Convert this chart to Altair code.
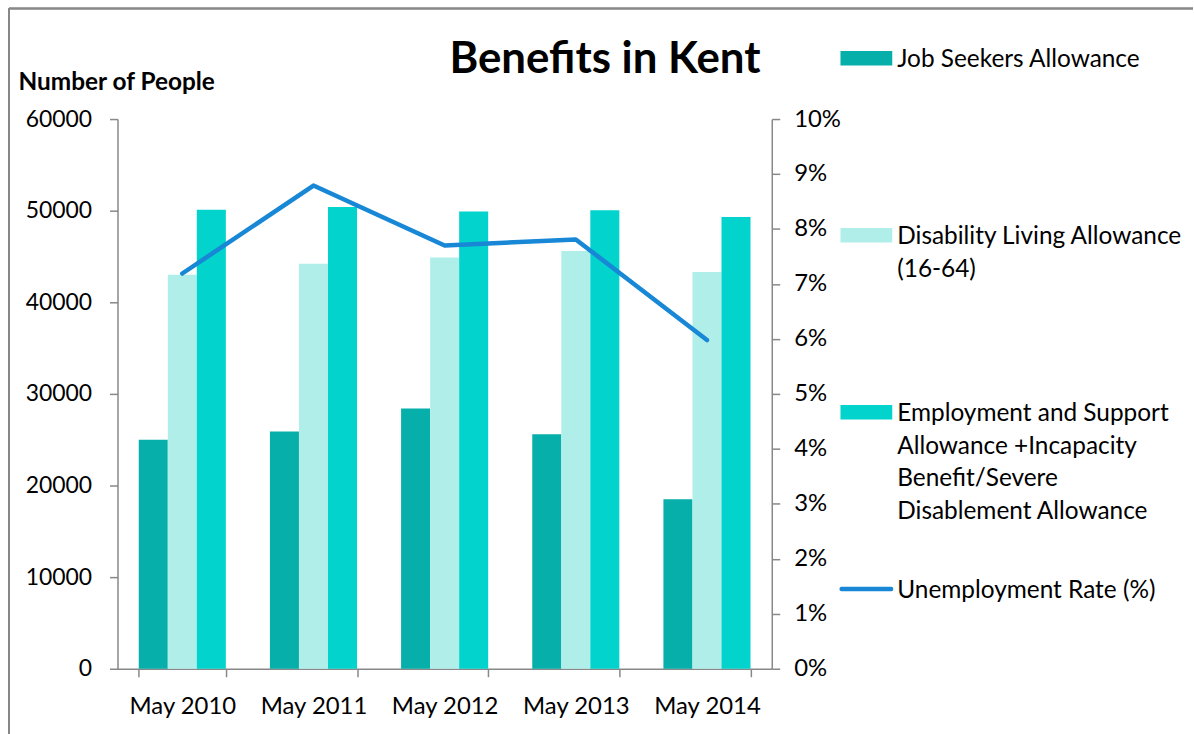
import altair as alt
import pandas as pd

years = ["May 2010", "May 2011", "May 2012", "May 2013", "May 2014"]
series_names = [
    "Job Seekers Allowance",
    "Disability Living Allowance (16-64)",
    "Employment and Support Allowance +Incapacity Benefit/Severe Disablement Allowance",
]
jsa = [25000, 25900, 28400, 25600, 18500]
dla = [43000, 44200, 44900, 45600, 43300]
esa = [50100, 50400, 49900, 50050, 49300]
unemployment = [0.0719, 0.0879, 0.0770, 0.0781, 0.0598]

left_ticks = [0, 10000, 20000, 30000, 40000, 50000, 60000]
right_ticks = [0, 0.01, 0.02, 0.03, 0.04, 0.05, 0.06, 0.07, 0.08, 0.09, 0.10]

legend_labels = [
    "Job Seekers Allowance",
    "Disability Living Allowance\n(16-64)",
    "Employment and Support\nAllowance +Incapacity\nBenefit/Severe\nDisablement Allowance",
    "Unemployment Rate (%)",
]
bar_colors = ["#06AFA9", "#B0EEEA", "#03D3CD"]
line_color = "#1787D6"

FONT = "Lato"
GRAY = "#888888"

rows = []
for i, y in enumerate(years):
    for s, vals in zip(series_names, [jsa, dla, esa]):
        rows.append({"year": y, "series": s, "value": vals[i]})
bars_df = pd.DataFrame(rows)
line_df = pd.DataFrame({"year": years, "rate": unemployment})

x_enc = alt.X(
    "year:N",
    sort=years,
    scale=alt.Scale(paddingInner=0.336, paddingOuter=0.162),
    axis=alt.Axis(
        title=None, labelAngle=0, tickBand="extent", tickSize=8,
        labelPadding=18, domainColor=GRAY, tickColor=GRAY, domainWidth=1.5, tickWidth=1.5,
        labelFont=FONT, labelFontSize=24, labelColor="#000000",
    ),
)

bars = alt.Chart(bars_df).mark_bar().encode(
    x=x_enc,
    xOffset=alt.XOffset("series:N", sort=series_names,
                        scale=alt.Scale(paddingInner=0, paddingOuter=0)),
    y=alt.Y(
        "value:Q",
        scale=alt.Scale(domain=[0, 60000], nice=False),
        axis=alt.Axis(
            values=left_ticks, format="d", grid=False, tickSize=8, labelPadding=18,
            domainColor=GRAY, tickColor=GRAY, domainWidth=1.5, tickWidth=1.5,
            labelFont=FONT, labelFontSize=23, labelColor="#000000",
            title="Number of People", titleAngle=0, titleX=-100, titleY=-30,
            titleAlign="left", titleBaseline="alphabetic", titleFont=FONT,
            titleFontSize=24.5, titleFontWeight="bold", titleColor="#000000",
        ),
    ),
    color=alt.Color("series:N", scale=alt.Scale(domain=series_names, range=bar_colors), legend=None),
)

line = alt.Chart(line_df).mark_line(color=line_color, strokeWidth=4.5, strokeCap="round", strokeJoin="round").encode(
    x=alt.X("year:N", sort=years),
    y=alt.Y(
        "rate:Q",
        scale=alt.Scale(domain=[0, 0.1], nice=False),
        axis=alt.Axis(
            orient="right", values=right_ticks, format=".0%", grid=False, tickSize=8,
            labelPadding=14, domainColor=GRAY, tickColor=GRAY, domainWidth=1.5, tickWidth=1.5,
            labelFont=FONT, labelFontSize=24, labelColor="#000000", title=None,
        ),
    ),
)

frame_left = alt.Chart(line_df).mark_rule(color=GRAY, strokeWidth=1.5).encode(
    x=alt.value(-109), y=alt.value(-111), y2=alt.value(620)
)
frame_top = alt.Chart(line_df).mark_rule(color=GRAY, strokeWidth=1.5).encode(
    x=alt.value(-109), x2=alt.value(1080), y=alt.value(-111)
)

main = alt.layer(bars, line, frame_left, frame_top).resolve_scale(y="independent").properties(
    width=657, height=552
)

leg_df = pd.DataFrame({
    "idx": [0, 1, 2, 3],
    "label": legend_labels,
    "key": series_names + ["Unemployment Rate (%)"],
})
leg_y = alt.Y("idx:Q", scale=alt.Scale(domain=[0.3433, 3.4502], reverse=True, nice=False, zero=False), axis=None)

swatches = alt.Chart(leg_df).transform_filter("datum.idx < 3").mark_tick(
    orient="horizontal", size=52, thickness=14.5, opacity=1
).encode(
    x=alt.value(30),
    y=leg_y,
    color=alt.Color("key:N", scale=alt.Scale(domain=series_names, range=bar_colors), legend=None),
)
line_swatch = alt.Chart(leg_df).transform_filter("datum.idx == 3").mark_tick(
    orient="horizontal", size=54, thickness=4.5, cornerRadius=2, color=line_color, opacity=1
).encode(x=alt.value(30), y=leg_y)
labels = alt.Chart(leg_df).mark_text(
    align="left", baseline="top", dy=-10, lineBreak="\n", lineHeight=32.7,
    font=FONT, fontSize=24.5, color="#000000"
).encode(x=alt.value(61), y=leg_y, text="label:N")

legend_panel = alt.layer(swatches, line_swatch, labels).properties(width=354, height=552)

chart = alt.hconcat(main, legend_panel, spacing=65, bounds="flush").properties(
    title=alt.TitleParams(
        "Benefits in Kent", font=FONT, fontSize=44, fontWeight="bold", color="#000000",
        anchor="middle", baseline="alphabetic", offset=0, dx=4, dy=110,
    ),
    padding={"left": 8, "top": 6, "right": 0, "bottom": 0},
).configure_view(stroke=None)

chart.save("out.html", embed_options={"renderer": "svg", "actions": False})
